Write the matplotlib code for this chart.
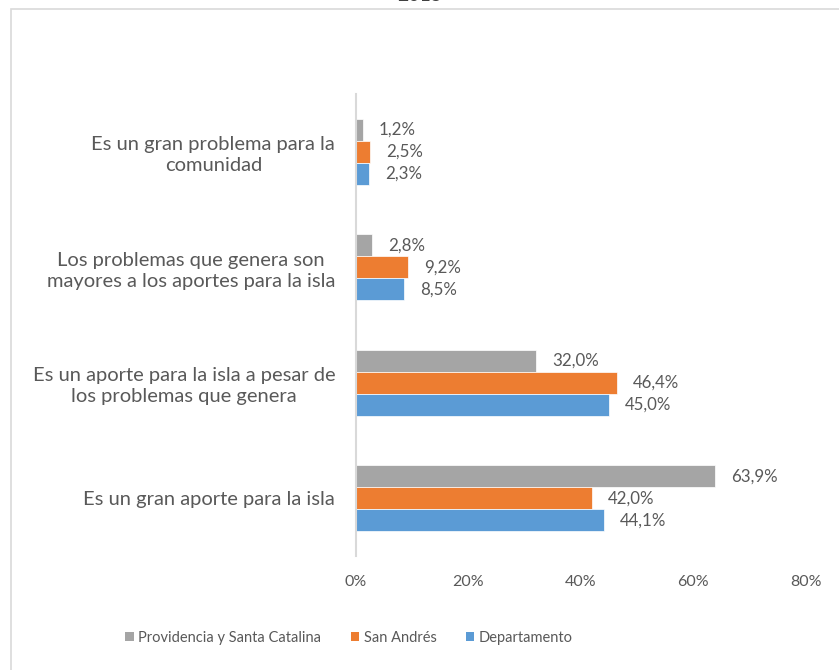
import numpy as np
import matplotlib.pyplot as plt
from matplotlib.patches import Rectangle, Patch

categorias = ['Es un gran aporte para la isla',
              'Es un aporte para la isla a pesar de\nlos problemas que genera',
              'Los problemas que genera son\nmayores a los aportes para la isla',
              'Es un gran problema para la\ncomunidad']
providencia = [63.9, 32.0, 2.8, 1.2]
san_andres = [42.0, 46.4, 9.2, 2.5]
departamento = [44.1, 45.0, 8.5, 2.3]
series = ['Providencia y Santa Catalina', 'San Andrés', 'Departamento']
cores = ['#A5A5A5', '#ED7D31', '#5B9BD5']
ticks_x = [0, 20, 40, 60, 80]

plt.rcParams['font.family'] = ['Lato', 'DejaVu Sans']
texto = '#595959'

fig = plt.figure(figsize=(8.39, 6.70), dpi=100)
ax = fig.add_axes([356/839, 1-556/670, (805.6-356)/839, (556-94)/670])

y = np.arange(len(categorias))
h = 0.19
valores = [providencia, san_andres, departamento]
desloc = [h, 0, -h]
for vals, cor, d in zip(valores, cores, desloc):
    barras = ax.barh(y + d, vals, height=h, color=cor, edgecolor='white', linewidth=0.5)
    for b, v in zip(barras, vals):
        ax.annotate(('%.1f%%' % v).replace('.', ','), (v, b.get_y() + b.get_height()/2),
                    xytext=(11.5, 0), textcoords='offset points', va='center', ha='left',
                    fontsize=12.2, color=texto)

ax.set_ylim(-0.5, 3.5)
ax.set_xlim(0, 80)
ax.set_xticks(ticks_x)
ax.set_xticklabels([str(t) + '%' for t in ticks_x])
ax.set_yticks(y)
ax.set_yticklabels(categorias, multialignment='center', linespacing=1.3)
ax.tick_params(axis='both', length=0, colors=texto)
ax.tick_params(axis='x', pad=14, labelsize=11.5)
ax.tick_params(axis='y', pad=15, labelsize=14.5)
for s in ['top', 'right', 'bottom']:
    ax.spines[s].set_visible(False)
ax.spines['left'].set_color('#D9D9D9')
ax.spines['left'].set_linewidth(1.5)

handles = [Patch(facecolor=c, label=s) for c, s in zip(cores, series)]
fig.legend(handles=handles, loc='center', bbox_to_anchor=(349/839, 1-638/670), ncol=3,
           frameon=False, fontsize=10.5, handlelength=0.6, handleheight=0.6,
           handletextpad=0.3, columnspacing=2.0, labelcolor=texto)

fig.patches.append(Rectangle((11/839, -0.1), 1.2, 1-9/670+0.1, transform=fig.transFigure,
                             fill=False, edgecolor='#D9D9D9', linewidth=1.2))
fig.text(0.5, 1.0 + 5/670, '2015', ha='center', va='center', fontsize=14, color='#404040')

plt.savefig('out.png', dpi=100)
